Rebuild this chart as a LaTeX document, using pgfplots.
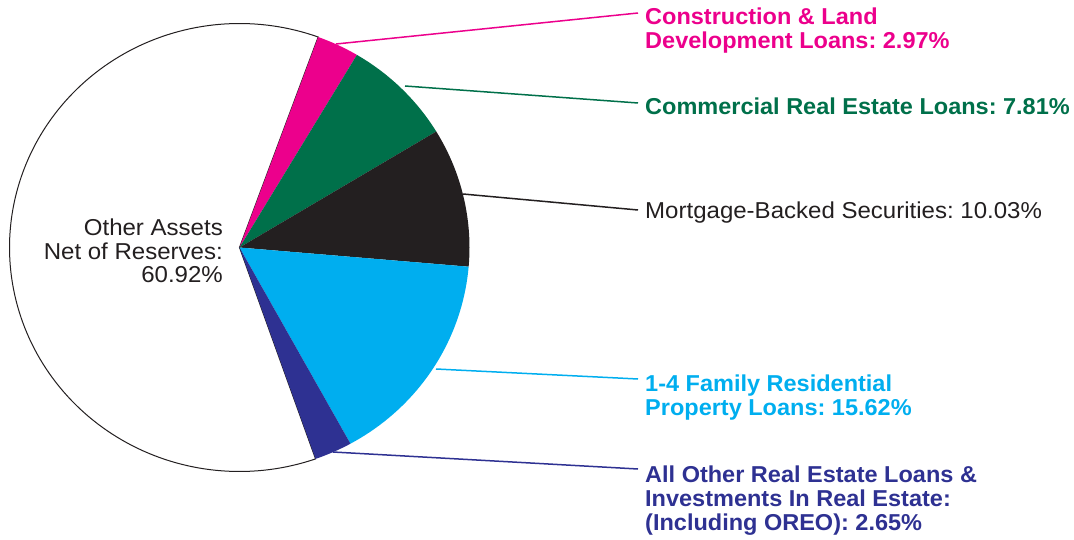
\documentclass[border=0pt]{standalone}
\usepackage{pgfplots}
\pgfplotsset{compat=1.18}
\usepackage{fontspec}
\setmainfont{Liberation Sans}
\frenchspacing
\definecolor{cPink}{HTML}{EC008C}
\definecolor{cGreen}{HTML}{00704A}
\definecolor{cBlack}{HTML}{231F20}
\definecolor{cBlue}{HTML}{00AEEF}
\definecolor{cPurple}{HTML}{2E3192}
% slice percentages (clockwise from 70 degrees)
\def\pA{2.97}  % Construction & Land Development Loans
\def\pB{7.81}  % Commercial Real Estate Loans
\def\pC{10.03} % Mortgage-Backed Securities
\def\pD{15.62} % 1-4 Family Residential Property Loans
\def\pE{2.65}  % All Other Real Estate Loans
\def\pF{60.92} % Other Assets Net of Reserves
\def\cx{239.5}\def\cy{247.5}\def\rx{230}\def\ry{224}
\pgfmathsetmacro\aO{70}
\pgfmathsetmacro\aA{\aO-\pA*3.6}
\pgfmathsetmacro\aB{\aA-\pB*3.6}
\pgfmathsetmacro\aC{\aB-\pC*3.6}
\pgfmathsetmacro\aD{\aC-\pD*3.6}
\pgfmathsetmacro\aE{\aD-\pE*3.6}
\pgfmathsetmacro\aF{\aE-\pF*3.6}
\newcommand{\lab}[4]{\node[anchor=base west, inner sep=0pt, xscale=1.022, text=#1, font=\fontsize{23}{24}\selectfont#2] at (axis cs:645,#3) {#4};}
\newcommand{\labr}[4]{\node[anchor=base #1, inner sep=0pt, xscale=1.045, text=cBlack, font=\fontsize{23}{24}\selectfont] at (axis cs:#2,#3) {#4};}
\begin{document}
\begin{tikzpicture}
\begin{axis}[
  width=1074pt, height=540pt, scale only axis,
  xmin=0, xmax=1074, ymin=0, ymax=540, y dir=reverse,
  hide axis, clip=false,
]
\path (axis cs:0,0) rectangle (axis cs:1074,540);
\addplot[fill=white, draw=cBlack, line width=1pt, domain=\aF:\aE, samples=150]
  ({\cx+\rx*cos(x)},{\cy-\ry*sin(x)}) -- (axis cs:\cx,\cy) -- cycle;
\addplot[fill=cPink, draw=none, domain=\aA:\aO, samples=20]
  ({\cx+\rx*cos(x)},{\cy-\ry*sin(x)}) -- (axis cs:\cx,\cy) -- cycle;
\addplot[fill=cGreen, draw=none, domain=\aB:\aA, samples=30]
  ({\cx+\rx*cos(x)},{\cy-\ry*sin(x)}) -- (axis cs:\cx,\cy) -- cycle;
\addplot[fill=cBlack, draw=none, domain=\aC:\aB, samples=30]
  ({\cx+\rx*cos(x)},{\cy-\ry*sin(x)}) -- (axis cs:\cx,\cy) -- cycle;
\addplot[fill=cBlue, draw=none, domain=\aD:\aC, samples=40]
  ({\cx+\rx*cos(x)},{\cy-\ry*sin(x)}) -- (axis cs:\cx,\cy) -- cycle;
\addplot[fill=cPurple, draw=none, domain=\aE:\aD, samples=20]
  ({\cx+\rx*cos(x)},{\cy-\ry*sin(x)}) -- (axis cs:\cx,\cy) -- cycle;
% leader lines
\draw[cPink, line width=1.5pt] (axis cs:336,44) -- (axis cs:638,13);
\draw[cGreen, line width=1.5pt] (axis cs:405,86) -- (axis cs:638,103);
\draw[cBlack, line width=1.5pt] (axis cs:463,194) -- (axis cs:638,210);
\draw[cBlue, line width=1.5pt] (axis cs:436,369) -- (axis cs:638,379);
\draw[cPurple, line width=1.5pt] (axis cs:333,452) -- (axis cs:638,469);
% labels
\lab{cPink}{\bfseries}{25}{Construction \& Land}
\lab{cPink}{\bfseries}{49}{Development Loans: 2.97\%}
\lab{cGreen}{\bfseries}{115}{Commercial Real Estate Loans: 7.81\%}
\labr{west}{645}{219}{Mortgage-Backed Securities: 10.03\%}
\lab{cBlue}{\bfseries}{391}{1-4 Family Residential}
\lab{cBlue}{\bfseries}{415}{Property Loans: 15.62\%}
\lab{cPurple}{\bfseries}{482}{All Other Real Estate Loans \&}
\lab{cPurple}{\bfseries}{506}{Investments In Real Estate:}
\lab{cPurple}{\bfseries}{530}{(Including OREO): 2.65\%}
\labr{east}{223}{236}{Other Assets}
\labr{east}{223}{259}{Net of Reserves:}
\labr{east}{223}{283}{60.92\%}
\end{axis}
\end{tikzpicture}
\end{document}
